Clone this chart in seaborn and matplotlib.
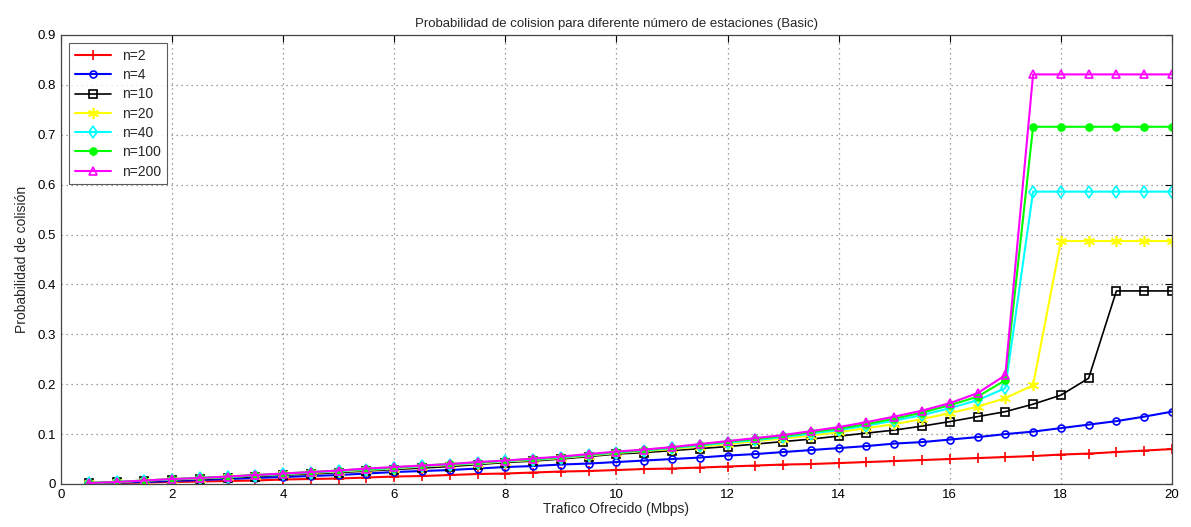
import matplotlib.pyplot as plt
import pandas as pd
import seaborn as sns

# Offered traffic (Mbps)
trafico = [0.5, 1, 1.5, 2, 2.5, 3, 3.5, 4, 4.5, 5, 5.5, 6, 6.5, 7, 7.5, 8, 8.5, 9, 9.5, 10,
           10.5, 11, 11.5, 12, 12.5, 13, 13.5, 14, 14.5, 15, 15.5, 16, 16.5, 17, 17.5, 18,
           18.5, 19, 19.5, 20]

p_n2 = [0.001, 0.002, 0.003, 0.004, 0.005, 0.006, 0.007, 0.009, 0.010, 0.011, 0.013, 0.015,
        0.016, 0.018, 0.020, 0.021, 0.023, 0.025, 0.026, 0.028, 0.030, 0.031, 0.033, 0.035,
        0.037, 0.039, 0.040, 0.042, 0.044, 0.046, 0.048, 0.050, 0.052, 0.054, 0.056, 0.059,
        0.061, 0.064, 0.067, 0.070]
p_n4 = [0.001, 0.003, 0.004, 0.006, 0.008, 0.010, 0.012, 0.014, 0.016, 0.018, 0.021, 0.024,
        0.026, 0.028, 0.031, 0.034, 0.036, 0.039, 0.041, 0.044, 0.047, 0.050, 0.053, 0.057,
        0.060, 0.064, 0.068, 0.072, 0.076, 0.081, 0.084, 0.089, 0.094, 0.100, 0.105, 0.112,
        0.119, 0.126, 0.135, 0.145]
p_n10 = [0.002, 0.004, 0.006, 0.008, 0.010, 0.012, 0.015, 0.018, 0.020, 0.023, 0.026, 0.029,
         0.032, 0.035, 0.039, 0.043, 0.046, 0.050, 0.055, 0.060, 0.063, 0.067, 0.071, 0.075,
         0.080, 0.085, 0.090, 0.096, 0.102, 0.108, 0.116, 0.125, 0.135, 0.145, 0.160, 0.178,
         0.212, 0.387, 0.387, 0.387]
p_n20 = [0.002, 0.004, 0.007, 0.009, 0.011, 0.014, 0.017, 0.020, 0.022, 0.025, 0.028, 0.031,
         0.035, 0.038, 0.041, 0.045, 0.048, 0.052, 0.057, 0.062, 0.066, 0.070, 0.075, 0.080,
         0.086, 0.091, 0.097, 0.104, 0.112, 0.120, 0.130, 0.142, 0.155, 0.172, 0.198, 0.487,
         0.487, 0.487, 0.487, 0.487]
p_n40 = [0.002, 0.004, 0.007, 0.009, 0.012, 0.014, 0.017, 0.020, 0.023, 0.026, 0.029, 0.032,
         0.036, 0.039, 0.042, 0.046, 0.049, 0.053, 0.058, 0.063, 0.067, 0.072, 0.077, 0.083,
         0.088, 0.094, 0.101, 0.108, 0.117, 0.127, 0.138, 0.152, 0.168, 0.192, 0.586, 0.586,
         0.586, 0.586, 0.586, 0.586]
p_n100 = [0.002, 0.004, 0.007, 0.010, 0.012, 0.015, 0.018, 0.021, 0.024, 0.027, 0.030, 0.033,
          0.037, 0.040, 0.043, 0.047, 0.050, 0.054, 0.059, 0.064, 0.068, 0.073, 0.079, 0.085,
          0.090, 0.096, 0.104, 0.111, 0.120, 0.131, 0.143, 0.158, 0.175, 0.208, 0.716, 0.716,
          0.716, 0.716, 0.716, 0.716]
p_n200 = [0.002, 0.004, 0.007, 0.010, 0.012, 0.015, 0.018, 0.021, 0.024, 0.027, 0.031, 0.034,
          0.037, 0.040, 0.044, 0.047, 0.051, 0.055, 0.060, 0.065, 0.069, 0.074, 0.080, 0.086,
          0.092, 0.098, 0.106, 0.114, 0.124, 0.135, 0.147, 0.162, 0.182, 0.218, 0.821, 0.821,
          0.821, 0.821, 0.821, 0.821]

etiquetas = ['n=2', 'n=4', 'n=10', 'n=20', 'n=40', 'n=100', 'n=200']
series = [p_n2, p_n4, p_n10, p_n20, p_n40, p_n100, p_n200]

frames = [pd.DataFrame({'trafico': trafico, 'prob': s, 'n': lab}) for lab, s in zip(etiquetas, series)]
df = pd.concat(frames, ignore_index=True)

sns.set_style('white')
plt.rcParams['font.family'] = ['Liberation Sans', 'DejaVu Sans']

estilos = {
    'n=2':   dict(color='#ff0000', marker='+', ms=7, mfc='none', lw=1.5),
    'n=4':   dict(color='#0000ff', marker='o', ms=5, mfc='none', lw=1.5),
    'n=10':  dict(color='#000000', marker='s', ms=5.5, mfc='none', lw=1.2),
    'n=20':  dict(color='#ffff00', marker=(6, 2, 0), ms=8, mfc='none', lw=1.5),
    'n=40':  dict(color='#00ffff', marker='d', ms=6, mfc='none', lw=1.5),
    'n=100': dict(color='#00ff00', marker='o', ms=5, mfc='#00ff00', lw=1.5),
    'n=200': dict(color='#ff00ff', marker='^', ms=6, mfc='none', lw=1.5),
}

fig, ax = plt.subplots(figsize=(11.91, 5.27), dpi=100)
fig.subplots_adjust(left=0.0512, right=0.984, bottom=0.0816, top=0.9336)

for lab in etiquetas:
    st = estilos[lab]
    sub = df[df['n'] == lab]
    sns.lineplot(data=sub, x='trafico', y='prob', ax=ax, label=lab, color=st['color'],
                 marker=st['marker'], markersize=st['ms'], markerfacecolor=st['mfc'],
                 markeredgecolor=st['color'], markeredgewidth=1.2, linewidth=st['lw'])

ax.set_xlim(0, 20)
ax.set_ylim(0, 0.9)
ax.set_xticks(range(0, 21, 2))
ax.set_yticks([i / 10 for i in range(10)])
ax.set_yticklabels(['0'] + [f'{i / 10:.1f}' for i in range(1, 10)])
ax.grid(True, linestyle=(0, (1, 3)), color='#808080', linewidth=0.9)
ax.tick_params(direction='in', top=True, right=True, length=5, labelsize=9.5, colors='black')
for sp in ax.spines.values():
    sp.set_color('#444444')
    sp.set_linewidth(0.9)

ax.set_title('Probabilidad de colision para diferente número de estaciones (Basic)', fontsize=9.5)
ax.set_xlabel('Trafico Ofrecido (Mbps)', fontsize=10, labelpad=1)
ax.set_ylabel('Probabilidad de colisión', fontsize=10, labelpad=6)

leg = ax.legend(loc='upper left', fontsize=10, frameon=True, fancybox=False,
                borderaxespad=0.6, handlelength=2.6, labelspacing=0.38)
leg.get_frame().set_edgecolor('#333333')
leg.get_frame().set_linewidth(0.8)

fig.savefig('out.png', dpi=100)
